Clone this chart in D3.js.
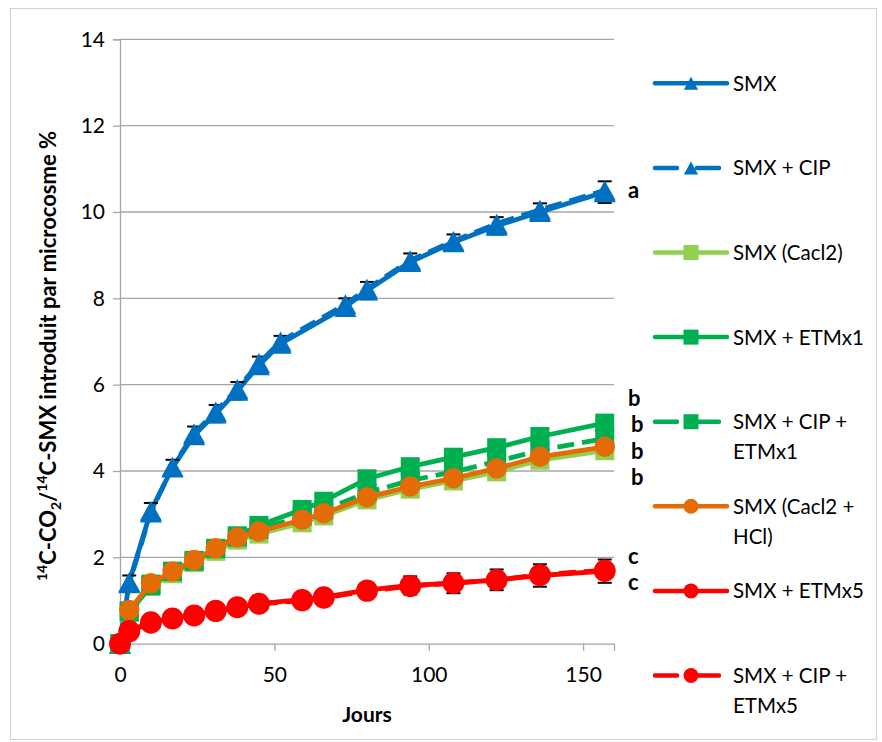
<!DOCTYPE html>
<html><head><meta charset="utf-8">
<script src="https://cdn.jsdelivr.net/npm/d3@7"></script>
<style>html,body{margin:0;padding:0;background:#fff;}svg{display:block;}</style>
</head><body>
<svg id="chart" width="882" height="742"></svg>
<script>
// ---- data ----
const days = [0, 3, 10, 17, 24, 31, 38, 45, 52, 59, 66, 73, 80, 94, 108, 122, 136, 157];
const smx      = [0, 1.43, 3.08, 4.08, 4.83, 5.33, 5.86, 6.45, 6.95, null, null, 7.80, 8.18, 8.84, 9.30, 9.68, 10.00, 10.46];
const smxErr   = [0, 0.15, 0.18, 0.18, 0.2, 0.2, 0.2, 0.2, 0.18, null, null, 0.2, 0.2, 0.2, 0.18, 0.2, 0.2, 0.25];
const smxCip   = [0, 1.40, 3.04, 4.10, 4.87, 5.38, 5.90, 6.50, 7.00, null, null, 7.86, 8.22, 8.88, 9.33, 9.73, 10.05, 10.50];
const cacl2    = [0, 0.72, 1.33, 1.62, 1.88, 2.14, 2.40, 2.54, null, 2.80, 2.96, null, 3.33, 3.58, 3.77, 3.98, 4.25, 4.47];
const etm1     = [0, 0.74, 1.34, 1.67, 1.91, 2.20, 2.50, 2.74, null, 3.11, 3.30, null, 3.82, 4.10, 4.32, 4.54, 4.80, 5.11];
const cipEtm1  = [0, 0.76, 1.38, 1.68, 1.93, 2.21, 2.47, 2.65, null, 2.95, 3.10, null, 3.50, 3.78, 3.98, 4.22, 4.48, 4.75];
const cacl2Hcl = [0, 0.78, 1.40, 1.67, 1.94, 2.21, 2.46, 2.60, null, 2.87, 3.02, null, 3.39, 3.64, 3.83, 4.06, 4.33, 4.56];
const etm5     = [0, 0.30, 0.50, 0.59, 0.66, 0.77, 0.85, 0.93, null, 1.02, 1.08, null, 1.24, 1.35, 1.40, 1.48, 1.58, 1.68];
const etm5Err  = [0, 0.05, 0.05, 0.05, 0.06, 0.06, 0.06, 0.08, null, 0.1, 0.1, null, 0.15, 0.21, 0.23, 0.24, 0.26, 0.27];
const cipEtm5  = [0, 0.28, 0.48, 0.58, 0.65, 0.75, 0.84, 0.92, null, 1.00, 1.06, null, 1.22, 1.33, 1.41, 1.47, 1.60, 1.70];
const yTicks = [0, 2, 4, 6, 8, 10, 12, 14];
const xTicks = [0, 50, 100, 150];
const seriesNames = ["SMX", "SMX + CIP", "SMX (Cacl2)", "SMX + ETMx1", "SMX + CIP +\nETMx1", "SMX (Cacl2 +\nHCl)", "SMX + ETMx5", "SMX + CIP +\nETMx5"];
const letters = ["a", "b", "b", "b", "b", "c", "c"];

// ---- styles ----
const series = [
  {name: seriesNames[0], vals: smx,      err: smxErr, color: "#0070C0", dash: null,  marker: "tri"},
  {name: seriesNames[1], vals: smxCip,   err: null,   color: "#0070C0", dash: "17,8", marker: "tri"},
  {name: seriesNames[2], vals: cacl2,    err: null,   color: "#92D050", dash: null,  marker: "sq"},
  {name: seriesNames[3], vals: etm1,     err: null,   color: "#00B050", dash: null,  marker: "sq"},
  {name: seriesNames[4], vals: cipEtm1,  err: null,   color: "#00B050", dash: "17,8", marker: "sq"},
  {name: seriesNames[5], vals: cacl2Hcl, err: null,   color: "#E36C09", dash: null,  marker: "circ"},
  {name: seriesNames[6], vals: etm5,     err: etm5Err,color: "#FF0000", dash: null,  marker: "circ"},
  {name: seriesNames[7], vals: cipEtm5,  err: null,   color: "#FF0000", dash: "17,8", marker: "circ"}
];

const FONT = "Lato, 'Open Sans', sans-serif";
const svg = d3.select("#chart");
const x = d3.scaleLinear().domain([0, 160]).range([120, 614]);
const y = d3.scaleLinear().domain([0, 14]).range([643.7, 39.3]);
const GRID = "#a6a6a6";

// outer border
svg.append("rect").attr("x", 10.5).attr("y", 8.5).attr("width", 866).attr("height", 731)
  .attr("fill", "none").attr("stroke", "#d0d0d0").attr("stroke-width", 1);

// gridlines
svg.append("g").selectAll("line").data(yTicks.filter(d => d > 0)).join("line")
  .attr("x1", x(0)).attr("x2", x(160)).attr("y1", d => y(d)).attr("y2", d => y(d))
  .attr("stroke", GRID).attr("stroke-width", 1.3);

// y axis
const yAxis = svg.append("g").attr("transform", `translate(${x(0)},0)`)
  .call(d3.axisLeft(y).tickValues(yTicks).tickSize(7).tickPadding(8).tickFormat(d3.format("d")));
// x axis
const xAxis = svg.append("g").attr("transform", `translate(0,${y(0)})`)
  .call(d3.axisBottom(x).tickValues(xTicks).tickSize(7).tickPadding(16).tickFormat(d3.format("d")));
[yAxis, xAxis].forEach(a => {
  a.select(".domain").attr("stroke", GRID).attr("stroke-width", 1.3);
  a.selectAll(".tick line").attr("stroke", GRID).attr("stroke-width", 1.3);
  a.selectAll(".tick text").attr("fill", "#000").style("font-family", FONT).style("font-size", "21px");
});
xAxis.selectAll(".tick").filter(d => d === 0).select("line").remove();

// marker generator
function drawMarker(g, type, cx, cy, s, color) {
  if (type === "tri") {
    const w = s * 1.1, h = s;
    g.append("path").attr("d", `M${cx},${cy - h / 2}L${cx + w / 2},${cy + h / 2}L${cx - w / 2},${cy + h / 2}Z`).attr("fill", color);
  } else if (type === "sq") {
    g.append("rect").attr("x", cx - s / 2).attr("y", cy - s / 2).attr("width", s).attr("height", s).attr("fill", color);
  } else {
    g.append("circle").attr("cx", cx).attr("cy", cy).attr("r", s / 2).attr("fill", color);
  }
}

const line = d3.line().defined(d => d.v !== null).x(d => x(d.d)).y(d => y(d.v));

series.forEach(s => {
  const pts = days.map((d, i) => ({d, v: s.vals[i], e: s.err ? s.err[i] : null})).filter(p => p.v !== null);
  const g = svg.append("g");
  g.append("path").datum(pts).attr("d", line).attr("fill", "none").attr("stroke", s.color)
    .attr("stroke-width", 4.8).attr("stroke-linejoin", "round")
    .attr("stroke-dasharray", s.dash);
  if (s.err) {
    pts.filter(p => p.e).forEach(p => {
      const cx = x(p.d), y1 = y(p.v + p.e), y2 = y(p.v - p.e);
      g.append("line").attr("x1", cx).attr("x2", cx).attr("y1", y1).attr("y2", y2).attr("stroke", "#000").attr("stroke-width", 1.5);
      [y1, y2].forEach(yy => g.append("line").attr("x1", cx - 7).attr("x2", cx + 7).attr("y1", yy).attr("y2", yy).attr("stroke", "#000").attr("stroke-width", 2));
    });
  }
  const size = s.marker === "tri" ? 20 : (s.marker === "sq" ? 19 : (s.color === "#FF0000" ? 21.5 : 20.5));
  pts.forEach(p => drawMarker(g, s.marker, x(p.d), y(p.v), size, s.color));
});

// significance letters
const letterX = [628, 628, 631, 631, 631, 628, 628];
const letterY = [198, 405.5, 432, 459, 484.5, 564, 590];
svg.append("g").selectAll("text").data(letters).join("text")
  .attr("x", (d, i) => letterX[i]).attr("y", (d, i) => letterY[i])
  .attr("font-family", FONT).attr("font-weight", "bold").attr("font-size", 22).attr("fill", "#000")
  .text(d => d);

// legend
const lg = svg.append("g");
series.forEach((s, i) => {
  const cy = 83.3 + i * 84.6;
  lg.append("line").attr("x1", 655).attr("x2", 727).attr("y1", cy).attr("y2", cy)
    .attr("stroke", s.color).attr("stroke-width", 4.5).attr("stroke-linecap", "round")
    .attr("stroke-dasharray", s.dash ? "22,20" : null);
  drawMarker(lg, s.marker, 691, cy, s.marker === "tri" ? 13 : 15, s.color);
  const t = lg.append("text").attr("x", 733).attr("y", cy + 7.5)
    .attr("font-family", FONT).attr("font-size", 20.5).attr("fill", "#000");
  s.name.split("\n").forEach((ln, j) => {
    t.append("tspan").attr("x", 733).attr("dy", j === 0 ? 0 : 30).text(ln);
  });
});

// axis titles
svg.append("text").attr("x", 367).attr("y", 722).attr("text-anchor", "middle")
  .attr("font-family", FONT).attr("font-weight", "bold").attr("font-size", 21).attr("fill", "#000").text("Jours");

const yt = svg.append("text").attr("transform", "translate(56,356) rotate(-90)").attr("text-anchor", "middle")
  .attr("font-family", FONT).attr("font-weight", "bold").attr("font-size", 22).attr("fill", "#000");
yt.append("tspan").attr("font-size", 14).attr("dy", -9).text("14");
yt.append("tspan").attr("dy", 9).text("C-CO");
yt.append("tspan").attr("font-size", 14).attr("dy", 5).text("2");
yt.append("tspan").attr("dy", -5).text("/");
yt.append("tspan").attr("font-size", 14).attr("dy", -9).text("14");
yt.append("tspan").attr("dy", 9).text("C-SMX introduit par microcosme %");
</script>
</body></html>
